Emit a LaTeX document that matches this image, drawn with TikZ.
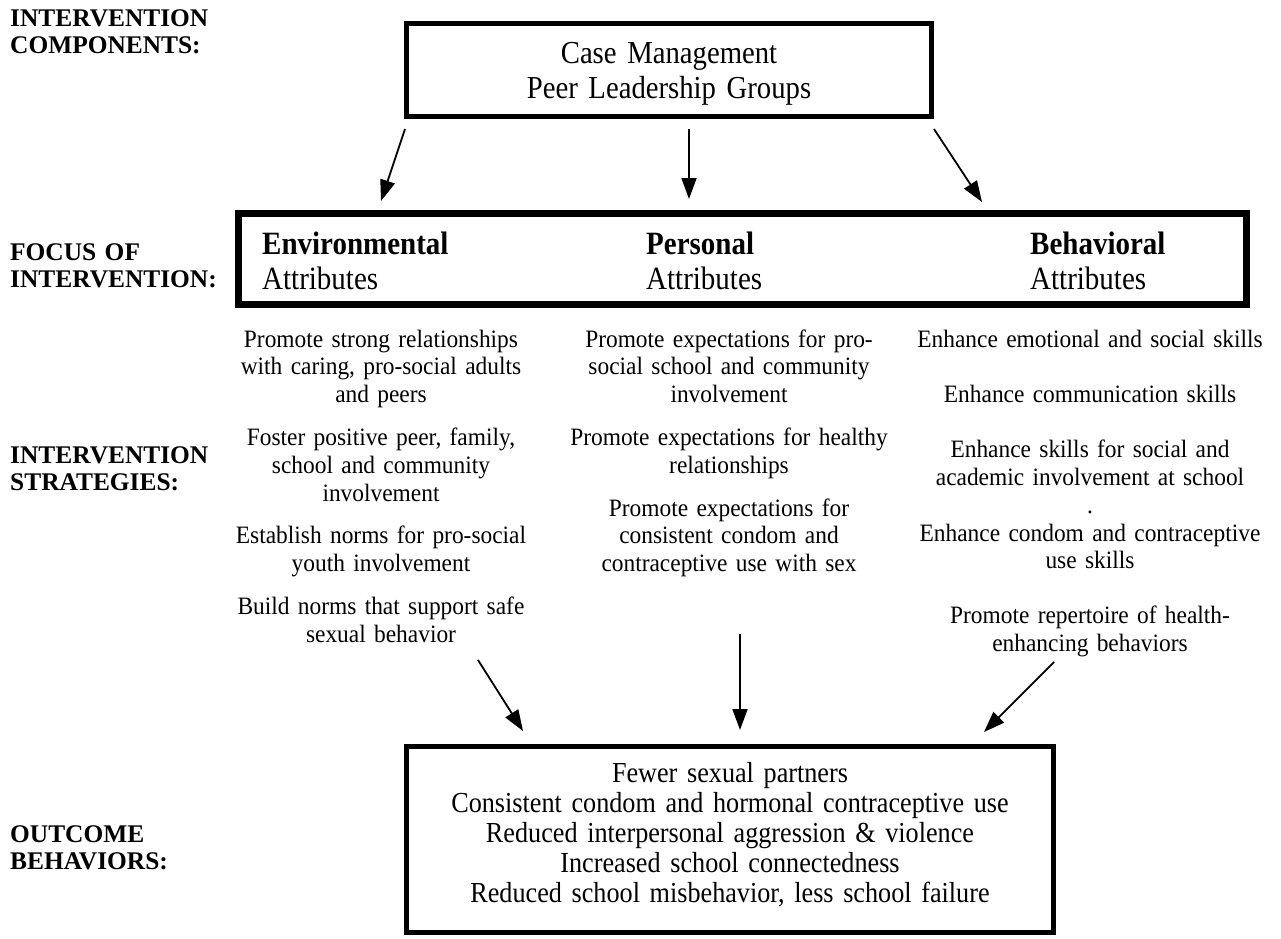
\documentclass[tikz,border=0pt]{standalone}
\usepackage{fontspec}
\setmainfont{Liberation Serif}
\newfontfamily\topfont[FakeStretch=0.897]{Liberation Serif}
\newfontfamily\focfont[FakeStretch=0.892]{Liberation Serif}
\newfontfamily\outfont[FakeStretch=0.903]{Liberation Serif}
\newfontfamily\stratfont[FakeStretch=0.936]{Liberation Serif}
\usetikzlibrary{arrows.meta}
\tikzset{
  lbl/.style={anchor=base west, inner sep=0pt, align=left, text width=235pt,
    font=\fontsize{25.4}{27}\selectfont\bfseries},
  strat/.style={anchor=base, inner sep=0pt, align=center, text width=360pt,
    font=\stratfont\fontsize{25}{27.8}\selectfont},
  focustxt/.style={anchor=base west, inner sep=0pt, align=left, text width=200pt,
    font=\focfont\fontsize{32.5}{35}\selectfont},
  boxthin/.style={draw, line width=5pt, inner sep=0pt},
  boxthick/.style={draw, line width=7pt, inner sep=0pt},
  arr/.style={line width=1.8pt, -{Triangle[length=21pt,width=15pt]}}
}
\begin{document}
\begin{tikzpicture}[x=1pt,y=-1pt]
\useasboundingbox (0,0) rectangle (1281,938);
\fill[white] (0,0) rectangle (1281,938);

% left labels
\node[lbl] (l1) at (10,26) {INTERVENTION\\COMPONENTS:};
\node[lbl] (l2) at (10,260) {FOCUS OF\\INTERVENTION:};
\node[lbl] (l3) at (10,463) {INTERVENTION\\STRATEGIES:};
\node[lbl] (l4) at (10,842) {OUTCOME\\BEHAVIORS:};

% boxes
\node[boxthin, minimum width=525pt, minimum height=93pt] (comp) at (669,70) {};
\node[boxthick, minimum width=1008pt, minimum height=91pt] (focus) at (742.5,259) {};
\node[boxthin, minimum width=647pt, minimum height=186pt] (outc) at (730,839.5) {};

% box texts
\node[anchor=base, inner sep=0pt, align=center, text width=500pt,
  font=\topfont\fontsize{32}{35}\selectfont] (comptxt) at (669,63)
  {Case Management\\Peer Leadership Groups};
\node[focustxt] (env) at (262,254) {\textbf{Environmental}\\Attributes};
\node[focustxt] (per) at (646,254) {\textbf{Personal}\\Attributes};
\node[focustxt] (beh) at (1030,254) {\textbf{Behavioral}\\Attributes};
\node[anchor=base, inner sep=0pt, align=center, text width=620pt,
  font=\outfont\fontsize{29}{30}\selectfont] (outtxt) at (730,782)
  {Fewer sexual partners\\
   Consistent condom and hormonal contraceptive use\\
   Reduced interpersonal aggression \& violence\\
   Increased school connectedness\\
   Reduced school misbehavior, less school failure};

% strategies
\node[strat] (s1) at (381,347)
  {Promote strong relationships\\
   with caring, pro-social adults\\
   and peers\\[15pt]
   Foster positive peer, family,\\
   school and community\\
   involvement\\[15pt]
   Establish norms for pro-social\\
   youth involvement\\[15pt]
   Build norms that support safe\\
   sexual behavior};
\node[strat] (s2) at (729,347)
  {Promote expectations for pro-\\
   social school and community\\
   involvement\\[15pt]
   Promote expectations for healthy\\
   relationships\\[15pt]
   Promote expectations for\\
   consistent condom and\\
   contraceptive use with sex};
\node[strat] (s3) at (1090,347)
  {Enhance emotional and social skills\\[28pt]
   Enhance communication skills\\[27pt]
   Enhance skills for social and\\
   academic involvement at school\\
   .\\
   Enhance condom and contraceptive\\
   use skills\\[27pt]
   Promote repertoire of health-\\
   enhancing behaviors};

% arrow endpoints
\coordinate (a1s) at (405,129);
\coordinate (a1e) at (381,201);
\coordinate (a2s) at (689,129);
\coordinate (a2e) at (689,199);
\coordinate (a3s) at (934,129);
\coordinate (a3e) at (982,202);
\coordinate (b1s) at (478,660);
\coordinate (b1e) at (523,731);
\coordinate (b2s) at (740,634);
\coordinate (b2e) at (740,730);
\coordinate (b3s) at (1054,662);
\coordinate (b3e) at (984,732);

\draw[arr] (a1s) -- (a1e);
\draw[arr] (a2s) -- (a2e);
\draw[arr] (a3s) -- (a3e);
\draw[arr] (b1s) -- (b1e);
\draw[arr] (b2s) -- (b2e);
\draw[arr] (b3s) -- (b3e);
\end{tikzpicture}
\end{document}
